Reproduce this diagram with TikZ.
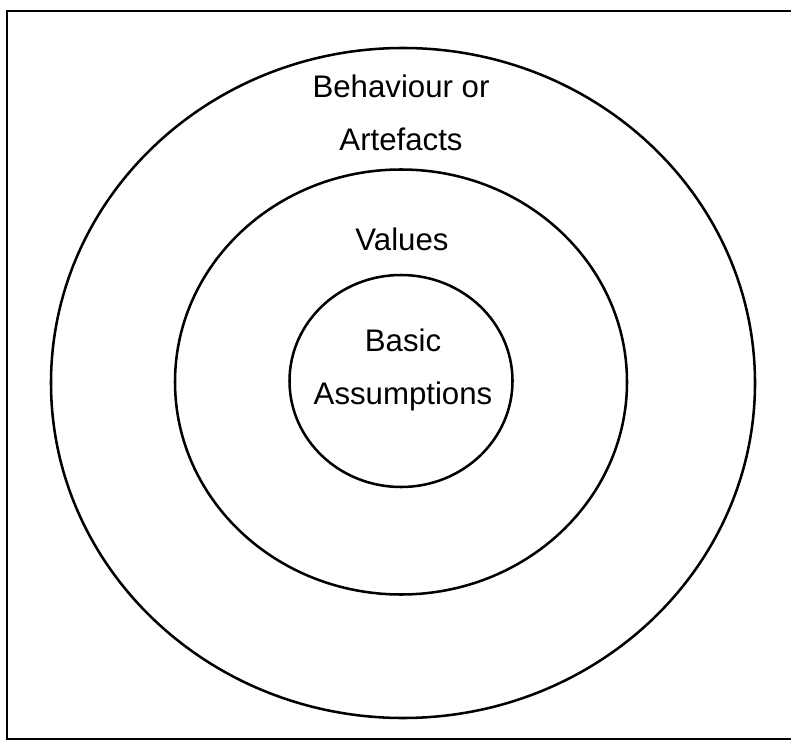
\documentclass[tikz,border=0pt]{standalone}
\usepackage{fontspec}
\setmainfont{Liberation Sans}
\usetikzlibrary{shapes.geometric}

\begin{document}
\begin{tikzpicture}[x=0.75pt, y=-0.75pt, ring/.style={draw, ellipse, line width=1.9pt, inner sep=0pt},
  lbl/.style={align=center, inner sep=0pt, anchor=north, font=\fontsize{23.4}{39.75}\selectfont}]
\useasboundingbox (0,0) rectangle (791,741);
% frame, its right side runs off the page
\draw[line width=2.2pt] (800,11) -- (7,11) -- (7,739) -- (800,739);

\node[ring, minimum width=704*0.75pt, minimum height=670*0.75pt] (outer) at (403,383) {};
\node[ring, minimum width=452*0.75pt, minimum height=425*0.75pt] (middle) at (401,382) {};
\node[ring, minimum width=223*0.75pt, minimum height=212*0.75pt] (inner) at (401,381) {};

\node[lbl] (behav) at (401,75) {Behaviour or\\Artefacts};
\node[lbl] (values) at (402,228) {Values};
\node[lbl] (basic) at (403,329) {Basic\\Assumptions};
\end{tikzpicture}
\end{document}
